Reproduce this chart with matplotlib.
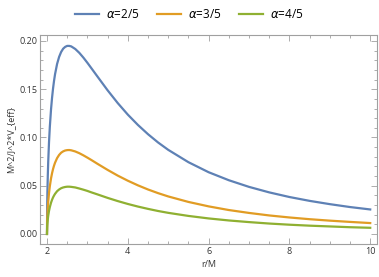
import numpy as np
import matplotlib
matplotlib.use("Agg")
import matplotlib.pyplot as plt
from matplotlib.ticker import MultipleLocator

# valeurs
r = [2.0, 2.005, 2.01, 2.02, 2.03, 2.05, 2.07, 2.1, 2.125, 2.15, 2.175, 2.2, 2.25,
     2.3, 2.35, 2.4, 2.45, 2.5, 2.55, 2.6, 2.7, 2.8, 2.9, 3.0, 3.1, 3.25, 3.5, 3.75,
     4.0, 4.25, 4.5, 4.75, 5.0, 5.5, 6.0, 6.5, 7.0, 7.5, 8.0, 8.5, 9.0, 9.5, 10.0]
v_25 = [0.0, 0.0297, 0.0426, 0.0607, 0.0743, 0.0950, 0.1108, 0.1291, 0.1410, 0.1508,
        0.1589, 0.1657, 0.1762, 0.1835, 0.1886, 0.1920, 0.1939, 0.1949, 0.1949, 0.1944,
        0.1917, 0.1877, 0.1828, 0.1774, 0.1717, 0.1631, 0.1489, 0.1357, 0.1237, 0.1130,
        0.1034, 0.0948, 0.0872, 0.0744, 0.0640, 0.0557, 0.0488, 0.0431, 0.0383, 0.0343,
        0.0309, 0.0279, 0.0254]
v_35 = [0.0, 0.0132, 0.0190, 0.0271, 0.0332, 0.0424, 0.0494, 0.0576, 0.0629, 0.0673,
        0.0709, 0.0739, 0.0786, 0.0819, 0.0842, 0.0856, 0.0865, 0.0869, 0.0870, 0.0867,
        0.0855, 0.0837, 0.0815, 0.0791, 0.0766, 0.0727, 0.0664, 0.0605, 0.0552, 0.0504,
        0.0461, 0.0423, 0.0389, 0.0332, 0.0286, 0.0248, 0.0218, 0.0192, 0.0171, 0.0153,
        0.0138, 0.0125, 0.0113]
v_45 = [0.0, 0.0075, 0.0107, 0.0152, 0.0187, 0.0239, 0.0278, 0.0324, 0.0354, 0.0379,
        0.0399, 0.0416, 0.0443, 0.0461, 0.0474, 0.0482, 0.0487, 0.0490, 0.0490, 0.0488,
        0.0482, 0.0471, 0.0459, 0.0446, 0.0431, 0.0410, 0.0374, 0.0341, 0.0311, 0.0284,
        0.0260, 0.0238, 0.0219, 0.0187, 0.0161, 0.0140, 0.0123, 0.0108, 0.0096, 0.0086,
        0.0078, 0.0070, 0.0064]
labels = ["$\\alpha$=2/5", "$\\alpha$=3/5", "$\\alpha$=4/5"]
couleurs = ["#5E81B5", "#E19C24", "#8FB032"]

plt.rcParams["font.family"] = ["Open Sans", "DejaVu Sans"]
plt.rcParams["mathtext.fontset"] = "dejavusans"

fig = plt.figure(figsize=(3.79, 2.77), dpi=100)
ax = fig.add_axes([40 / 379, 1 - 244 / 277, 337 / 379, 209 / 277])

for serie, lab, c in zip([v_25, v_35, v_45], labels, couleurs):
    ax.plot(r, serie, color=c, lw=1.6, label=lab, solid_joinstyle="round")

ax.set_xlim(1.827, 10.168)
ax.set_ylim(-0.0104, 0.2062)
ax.set_xticks([2, 4, 6, 8, 10])
ax.set_yticks([0.0, 0.05, 0.10, 0.15, 0.20])
ax.set_yticklabels(["0.00", "0.05", "0.10", "0.15", "0.20"])
ax.xaxis.set_minor_locator(MultipleLocator(0.5))
ax.yaxis.set_minor_locator(MultipleLocator(0.01))

gris = "#A0A0A0"
for s in ax.spines.values():
    s.set_color(gris)
    s.set_linewidth(0.8)
ax.tick_params(which="both", direction="in", top=True, right=True, color=gris,
               width=0.6, labelsize=6.5, labelcolor="#333333", pad=2)
ax.tick_params(which="major", length=4)
ax.tick_params(which="minor", length=2)

ax.set_xlabel("r/M", fontsize=6.5, color="#333333", labelpad=3)
ax.set_ylabel("M^2/J^2*V_{eff}", fontsize=6.5, color="#333333", labelpad=3)

fig.legend(loc="center", bbox_to_anchor=(0.5, 1 - 15 / 277), ncol=3, frameon=False,
           fontsize=8.5, handlelength=2.0, handletextpad=0.6, columnspacing=1.5)

fig.savefig("out.png", dpi=100)
